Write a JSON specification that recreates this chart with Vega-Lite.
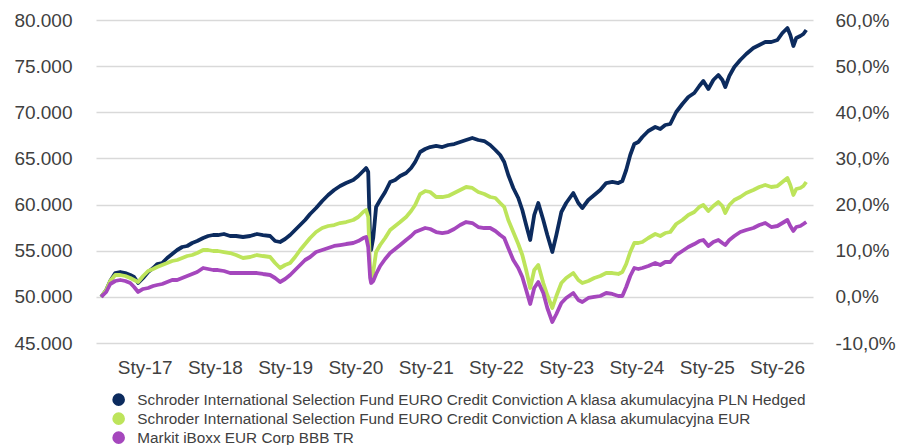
{
"$schema": "https://vega.github.io/schema/vega-lite/v6.json",
"width": 717, "height": 323,
"autosize": "none",
"padding": {"left": 96, "top": 20, "right": 85, "bottom": 102},
"background": "white",
"config": {"view": {"stroke": null}, "font": "Liberation Sans"},
"data": {"values": [
{"date":"2016-05-20","a":50000,"b":50000,"c":50000},
{"date":"2016-06-15","a":50743,"b":50743,"c":50527},
{"date":"2016-07-06","a":51718,"b":51718,"c":51393},
{"date":"2016-08-01","a":52585,"b":52368,"c":51718},
{"date":"2016-08-27","a":52693,"b":52368,"c":51827},
{"date":"2016-09-22","a":52585,"b":52260,"c":51718},
{"date":"2016-10-18","a":52368,"b":52043,"c":51502},
{"date":"2016-11-07","a":52152,"b":51827,"c":51068},
{"date":"2016-11-28","a":51502,"b":51610,"c":50527},
{"date":"2016-12-24","a":52043,"b":52260,"c":50852},
{"date":"2017-01-19","a":52693,"b":52802,"c":50960},
{"date":"2017-02-14","a":53127,"b":53019,"c":51177},
{"date":"2017-03-07","a":53560,"b":53235,"c":51285},
{"date":"2017-04-02","a":53669,"b":53452,"c":51393},
{"date":"2017-04-28","a":54210,"b":53669,"c":51610},
{"date":"2017-05-24","a":54644,"b":53885,"c":51827},
{"date":"2017-06-19","a":55077,"b":53994,"c":51827},
{"date":"2017-07-15","a":55402,"b":54210,"c":52043},
{"date":"2017-08-10","a":55511,"b":54427,"c":52260},
{"date":"2017-09-05","a":55836,"b":54535,"c":52477},
{"date":"2017-10-01","a":56052,"b":54752,"c":52693},
{"date":"2017-11-01","a":56377,"b":55077,"c":53127},
{"date":"2017-11-27","a":56594,"b":55077,"c":53019},
{"date":"2017-12-23","a":56702,"b":54969,"c":52910},
{"date":"2018-01-17","a":56702,"b":54969,"c":52910},
{"date":"2018-02-17","a":56811,"b":54860,"c":52802},
{"date":"2018-03-21","a":56594,"b":54752,"c":52585},
{"date":"2018-04-21","a":56594,"b":54535,"c":52585},
{"date":"2018-05-27","a":56486,"b":54210,"c":52585},
{"date":"2018-07-03","a":56594,"b":54319,"c":52585},
{"date":"2018-08-08","a":56811,"b":54535,"c":52585},
{"date":"2018-09-08","a":56702,"b":54427,"c":52477},
{"date":"2018-10-15","a":56594,"b":54319,"c":52368},
{"date":"2018-11-10","a":56052,"b":53669,"c":52043},
{"date":"2018-12-06","a":55944,"b":53127,"c":51610},
{"date":"2019-01-01","a":56269,"b":53452,"c":51935},
{"date":"2019-01-27","a":56702,"b":53669,"c":52368},
{"date":"2019-02-22","a":57244,"b":54319,"c":52910},
{"date":"2019-03-20","a":57786,"b":55077,"c":53452},
{"date":"2019-04-15","a":58328,"b":55727,"c":53994},
{"date":"2019-05-11","a":58978,"b":56377,"c":54319},
{"date":"2019-06-11","a":59628,"b":57027,"c":54860},
{"date":"2019-07-13","a":60387,"b":57461,"c":55077},
{"date":"2019-08-13","a":61037,"b":57678,"c":55294},
{"date":"2019-09-13","a":61579,"b":57786,"c":55511},
{"date":"2019-10-14","a":62012,"b":58003,"c":55619},
{"date":"2019-11-14","a":62337,"b":58111,"c":55727},
{"date":"2019-12-21","a":62662,"b":58328,"c":55836},
{"date":"2020-01-16","a":63096,"b":58653,"c":56052},
{"date":"2020-02-11","a":63637,"b":59195,"c":56377},
{"date":"2020-02-26","a":63963,"b":59412,"c":56486},
{"date":"2020-03-08","a":63529,"b":58653,"c":55402},
{"date":"2020-03-18","a":56161,"b":52910,"c":52043},
{"date":"2020-03-23","a":55077,"b":52043,"c":51502},
{"date":"2020-04-03","a":56377,"b":52693,"c":51718},
{"date":"2020-04-18","a":59737,"b":54860,"c":52477},
{"date":"2020-05-09","a":60495,"b":55619,"c":53344},
{"date":"2020-06-04","a":61362,"b":56377,"c":54102},
{"date":"2020-06-30","a":62446,"b":57244,"c":54752},
{"date":"2020-07-26","a":62662,"b":57678,"c":55186},
{"date":"2020-08-21","a":63096,"b":58111,"c":55619},
{"date":"2020-09-21","a":63421,"b":58653,"c":56161},
{"date":"2020-10-17","a":63963,"b":59303,"c":56594},
{"date":"2020-11-07","a":64613,"b":59953,"c":57027},
{"date":"2020-12-03","a":65697,"b":61145,"c":57244},
{"date":"2020-12-29","a":66022,"b":61470,"c":57461},
{"date":"2021-01-24","a":66238,"b":61362,"c":57352},
{"date":"2021-02-24","a":66347,"b":60820,"c":57027},
{"date":"2021-03-28","a":66238,"b":60820,"c":56919},
{"date":"2021-04-28","a":66455,"b":60929,"c":57027},
{"date":"2021-05-29","a":66563,"b":61254,"c":57352},
{"date":"2021-06-29","a":66780,"b":61579,"c":57786},
{"date":"2021-07-30","a":66997,"b":61904,"c":58111},
{"date":"2021-08-31","a":67213,"b":61796,"c":58003},
{"date":"2021-10-01","a":66997,"b":61362,"c":57569},
{"date":"2021-11-01","a":66888,"b":61145,"c":57461},
{"date":"2021-12-02","a":66455,"b":60820,"c":57461},
{"date":"2021-12-29","a":65913,"b":60712,"c":57136},
{"date":"2022-01-23","a":65371,"b":60170,"c":56702},
{"date":"2022-02-13","a":64613,"b":59737,"c":56377},
{"date":"2022-03-06","a":63204,"b":58328,"c":55294},
{"date":"2022-04-01","a":61796,"b":57027,"c":53994},
{"date":"2022-04-27","a":60712,"b":55727,"c":53127},
{"date":"2022-05-18","a":59412,"b":54535,"c":52152},
{"date":"2022-06-07","a":57786,"b":52910,"c":50743},
{"date":"2022-06-28","a":56161,"b":50960,"c":49226},
{"date":"2022-07-19","a":58870,"b":52910,"c":50960},
{"date":"2022-08-09","a":60170,"b":53452,"c":51610},
{"date":"2022-09-04","a":58328,"b":51502,"c":50418},
{"date":"2022-09-25","a":56702,"b":50201,"c":48793},
{"date":"2022-10-21","a":54860,"b":48793,"c":47276},
{"date":"2022-11-11","a":56702,"b":50093,"c":48143},
{"date":"2022-12-07","a":59195,"b":51502,"c":49335},
{"date":"2023-01-01","a":60170,"b":52043,"c":49877},
{"date":"2023-02-07","a":61254,"b":52585,"c":50418},
{"date":"2023-03-05","a":60170,"b":51827,"c":49660},
{"date":"2023-03-26","a":59628,"b":51502,"c":49443},
{"date":"2023-04-26","a":60495,"b":51718,"c":49877},
{"date":"2023-05-27","a":61037,"b":52043,"c":49985},
{"date":"2023-06-27","a":61579,"b":52260,"c":50093},
{"date":"2023-07-28","a":62337,"b":52585,"c":50418},
{"date":"2023-08-29","a":62446,"b":52585,"c":50310},
{"date":"2023-09-29","a":62337,"b":52477,"c":50093},
{"date":"2023-10-20","a":62554,"b":52693,"c":50093},
{"date":"2023-11-09","a":63746,"b":53560,"c":51068},
{"date":"2023-11-30","a":65371,"b":54860,"c":52260},
{"date":"2023-12-21","a":66563,"b":55836,"c":53127},
{"date":"2024-01-11","a":66780,"b":55836,"c":53019},
{"date":"2024-02-01","a":67322,"b":55944,"c":53127},
{"date":"2024-03-03","a":67972,"b":56377,"c":53344},
{"date":"2024-04-08","a":68405,"b":56811,"c":53669},
{"date":"2024-05-04","a":68189,"b":56594,"c":53452},
{"date":"2024-05-30","a":68622,"b":56919,"c":53777},
{"date":"2024-06-25","a":68731,"b":57027,"c":53777},
{"date":"2024-07-26","a":70031,"b":57894,"c":54535},
{"date":"2024-08-27","a":70898,"b":58328,"c":54969},
{"date":"2024-09-27","a":71656,"b":58870,"c":55402},
{"date":"2024-10-28","a":72090,"b":59195,"c":55727},
{"date":"2024-11-23","a":72848,"b":59737,"c":56052},
{"date":"2024-12-14","a":73390,"b":59953,"c":56161},
{"date":"2025-01-09","a":72523,"b":59303,"c":55511},
{"date":"2025-02-04","a":73498,"b":59845,"c":55944},
{"date":"2025-03-02","a":74040,"b":60278,"c":56161},
{"date":"2025-03-23","a":73498,"b":59845,"c":55836},
{"date":"2025-04-07","a":72740,"b":59087,"c":55619},
{"date":"2025-04-28","a":73932,"b":59953,"c":56161},
{"date":"2025-05-24","a":74907,"b":60495,"c":56594},
{"date":"2025-06-24","a":75666,"b":60820,"c":57027},
{"date":"2025-07-25","a":76316,"b":61254,"c":57244},
{"date":"2025-08-31","a":76966,"b":61579,"c":57461},
{"date":"2025-10-01","a":77291,"b":61904,"c":57786},
{"date":"2025-11-01","a":77616,"b":62121,"c":58003},
{"date":"2025-12-02","a":77616,"b":61904,"c":57569},
{"date":"2026-01-03","a":77833,"b":62012,"c":57678},
{"date":"2026-01-29","a":78591,"b":62446,"c":58003},
{"date":"2026-02-24","a":79133,"b":62879,"c":58328},
{"date":"2026-03-11","a":78375,"b":62121,"c":57678},
{"date":"2026-03-27","a":77183,"b":61037,"c":57136},
{"date":"2026-04-11","a":78050,"b":61687,"c":57569},
{"date":"2026-05-02","a":78266,"b":61796,"c":57678},
{"date":"2026-05-18","a":78483,"b":62012,"c":57894},
{"date":"2026-06-02","a":78916,"b":62446,"c":58111}
]},
"transform": [{"fold": ["a","b","c"], "as": ["series","value"]}],
"layer": [
 {"mark": {"type": "line", "strokeWidth": 3.8, "strokeJoin": "round"},
  "encoding": {
   "x": {"field": "date", "type": "temporal",
     "scale": {"type": "utc", "domain": [{"year":2016,"month":4,"date":23,"utc":true},{"year":2026,"month":7,"date":7,"utc":true}]},
     "axis": {"title": null, "grid": false, "domain": false, "ticks": false,
       "values": [{"year":2017,"month":1,"date":1,"utc":true},{"year":2018,"month":1,"date":1,"utc":true},{"year":2019,"month":1,"date":1,"utc":true},{"year":2020,"month":1,"date":1,"utc":true},{"year":2021,"month":1,"date":1,"utc":true},{"year":2022,"month":1,"date":1,"utc":true},{"year":2023,"month":1,"date":1,"utc":true},{"year":2024,"month":1,"date":1,"utc":true},{"year":2025,"month":1,"date":1,"utc":true},{"year":2026,"month":1,"date":1,"utc":true}],
       "labelExpr": "'Sty-' + utcFormat(datum.value, '%y')",
       "labelFontSize": 19, "labelColor": "#404040", "labelPadding": 15, "labelFont": "Liberation Sans"}},
   "y": {"field": "value", "type": "quantitative",
     "scale": {"domain": [45000, 80000], "nice": false, "zero": false},
     "axis": {"title": null, "orient": "left", "values": [45000,50000,55000,60000,65000,70000,75000,80000],
       "labelExpr": "floor(datum.value/1000) + '.000'",
       "grid": true, "gridColor": "#d9d9d9", "gridWidth": 1.5, "domain": false, "ticks": false,
       "labelFontSize": 19, "labelColor": "#404040", "labelPadding": 24, "labelFont": "Liberation Sans"}},
   "color": {"field": "series", "type": "nominal",
     "scale": {"domain": ["a","b","c"], "range": ["#0c2b5e","#bde45b","#a547bd"]},
     "legend": {"title": null, "orient": "none", "legendX": 15, "legendY": 372, "direction": "vertical",
       "symbolType": "circle", "symbolSize": 160, "symbolStrokeWidth": 0, "symbolOpacity": 1,
       "labelFontSize": 15.3, "labelColor": "#404040", "labelFont": "Liberation Sans", "labelLimit": 900, "labelOffset": 11, "rowPadding": 3, "padding": 0,
       "labelExpr": "datum.label == 'a' ? 'Schroder International Selection Fund EURO Credit Conviction A klasa akumulacyjna PLN Hedged' : datum.label == 'b' ? 'Schroder International Selection Fund EURO Credit Conviction A klasa akumulacyjna EUR' : 'Markit iBoxx EUR Corp BBB TR'",
       "encode": {"symbols": {"update": {"fill": {"scale": "color", "field": "value"}, "fillOpacity": {"value": 1}}}}}}
  }},
 {"mark": {"type": "line", "opacity": 0},
  "encoding": {
   "x": {"field": "date", "type": "temporal", "scale": {"type": "utc"}},
   "y": {"field": "value", "type": "quantitative",
     "scale": {"domain": [45000, 80000], "nice": false, "zero": false},
     "axis": {"title": null, "orient": "right", "values": [45000,50000,55000,60000,65000,70000,75000,80000],
       "labelExpr": "round((datum.value/50000 - 1)*100) + ',0%'",
       "grid": false, "domain": false, "ticks": false,
       "labelFontSize": 19, "labelColor": "#404040", "labelPadding": 22, "labelFont": "Liberation Sans"}},
   "detail": {"field": "series", "type": "nominal"}
  }}
],
"resolve": {"axis": {"y": "independent"}}
}
